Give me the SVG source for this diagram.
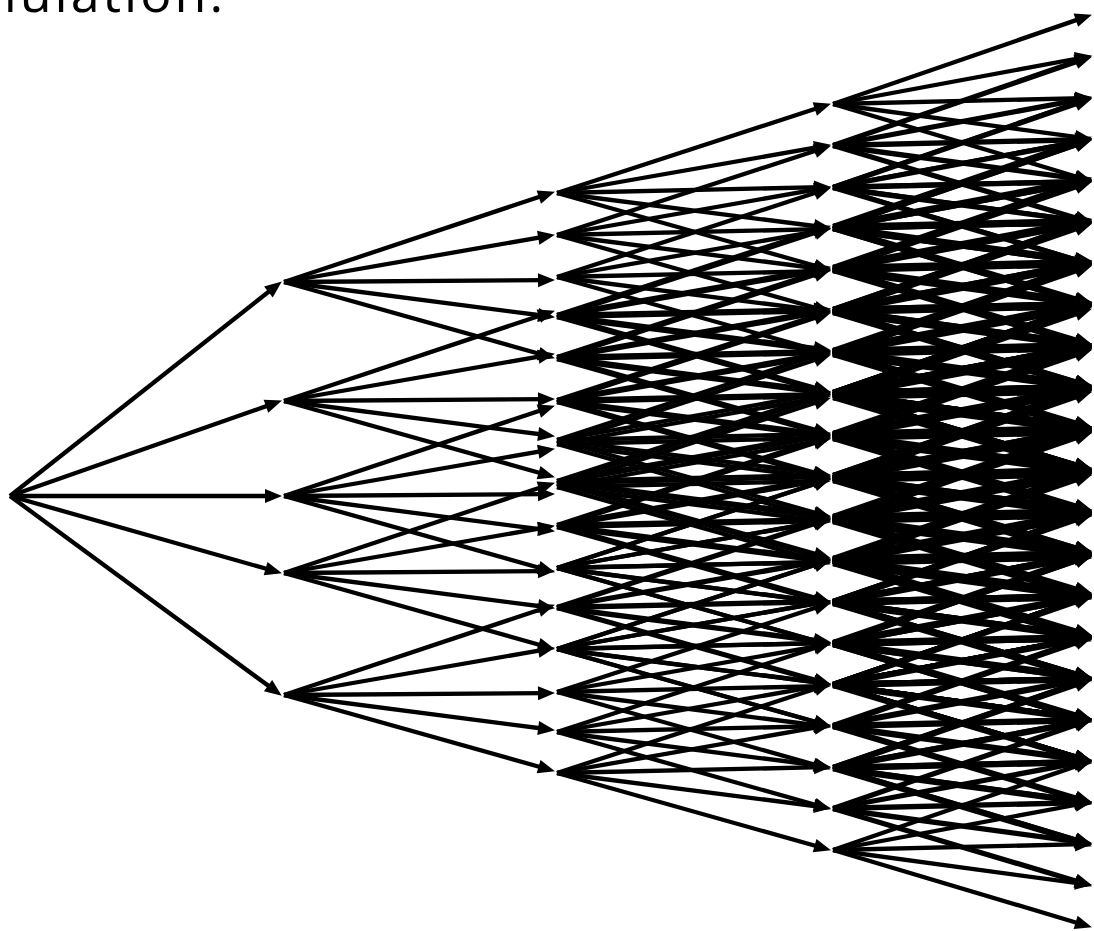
<svg xmlns="http://www.w3.org/2000/svg" width="1094" height="931" viewBox="0 0 1094 931">
<defs>
<style>
.e{fill:none;stroke:#000;stroke-width:4.3;marker-end:url(#ah)}
.t{font-family:"Open Sans","Liberation Sans",sans-serif;font-size:52px;letter-spacing:3px;fill:#000}
</style>
<marker id="ah" markerUnits="userSpaceOnUse" markerWidth="17" markerHeight="14" refX="8" refY="7" orient="auto" overflow="visible"><path d="M0,0L17,7L0,14z" fill="#000" stroke="none"/></marker>
<g id="f2" class="e"><path d="M0 0l262.4-87.5"/><path d="M0 0l262.1-45.6"/><path d="M0 0l262-1.9"/><path d="M0 0l262.1 34"/><path d="M0 0l262.3 73.8"/></g>
<g id="f3" class="e"><path d="M0 0l265.4-86.5"/><path d="M0 0l265.1-46.6"/><path d="M0 0l265-5.8"/><path d="M0 0l265.1 34"/><path d="M0 0l265.3 74.8"/></g>
<g id="f4" class="e"><path d="M0 0l250.4-86.4"/><path d="M0 0l250.1-46.5"/><path d="M0 0l250-5.8"/><path d="M0 0l250.1 33.9"/><path d="M0 0l250.3 74.7"/></g>
</defs>
<text class="t" x="-31.5" y="12">mulation.</text>
<g id="connectors">
<g id="level1" class="e"><path d="M10 496l264.7-209"/><path d="M10 496l263.5-92.4"/><path d="M10 496l263 0"/><path d="M10 496l263.3 74.8"/><path d="M10 496l264.5 194.3"/></g>
<g id="level2">
<use href="#f2" x="284" y="282"/><use href="#f2" x="284" y="401"/><use href="#f2" x="284" y="496"/><use href="#f2" x="284" y="573"/><use href="#f2" x="284" y="695"/>
</g>
<g id="level3">
<use href="#f3" x="557" y="193"/><use href="#f3" x="557" y="235"/><use href="#f3" x="557" y="277"/><use href="#f3" x="557" y="317"/><use href="#f3" x="557" y="359"/>
<use href="#f3" x="557" y="315"/><use href="#f3" x="557" y="357"/><use href="#f3" x="557" y="400"/><use href="#f3" x="557" y="440"/><use href="#f3" x="557" y="481"/>
<use href="#f3" x="557" y="402"/><use href="#f3" x="557" y="444"/><use href="#f3" x="557" y="487"/><use href="#f3" x="557" y="527"/><use href="#f3" x="557" y="568"/>
<use href="#f3" x="557" y="483"/><use href="#f3" x="557" y="525"/><use href="#f3" x="557" y="568"/><use href="#f3" x="557" y="608"/><use href="#f3" x="557" y="649"/>
<use href="#f3" x="557" y="607"/><use href="#f3" x="557" y="649"/><use href="#f3" x="557" y="692"/><use href="#f3" x="557" y="732"/><use href="#f3" x="557" y="773"/>
</g>
<g id="level4">
<use href="#f4" x="833" y="104"/><use href="#f4" x="833" y="145"/><use href="#f4" x="833" y="187"/><use href="#f4" x="833" y="228"/><use href="#f4" x="833" y="270"/>
<use href="#f4" x="833" y="146"/><use href="#f4" x="833" y="187"/><use href="#f4" x="833" y="229"/><use href="#f4" x="833" y="270"/><use href="#f4" x="833" y="312"/>
<use href="#f4" x="833" y="188"/><use href="#f4" x="833" y="229"/><use href="#f4" x="833" y="271"/><use href="#f4" x="833" y="312"/><use href="#f4" x="833" y="354"/>
<use href="#f4" x="833" y="228"/><use href="#f4" x="833" y="269"/><use href="#f4" x="833" y="311"/><use href="#f4" x="833" y="352"/><use href="#f4" x="833" y="394"/>
<use href="#f4" x="833" y="270"/><use href="#f4" x="833" y="311"/><use href="#f4" x="833" y="353"/><use href="#f4" x="833" y="394"/><use href="#f4" x="833" y="436"/>
<use href="#f4" x="833" y="226"/><use href="#f4" x="833" y="267"/><use href="#f4" x="833" y="309"/><use href="#f4" x="833" y="350"/><use href="#f4" x="833" y="392"/>
<use href="#f4" x="833" y="268"/><use href="#f4" x="833" y="309"/><use href="#f4" x="833" y="351"/><use href="#f4" x="833" y="392"/><use href="#f4" x="833" y="434"/>
<use href="#f4" x="833" y="311"/><use href="#f4" x="833" y="352"/><use href="#f4" x="833" y="394"/><use href="#f4" x="833" y="435"/><use href="#f4" x="833" y="477"/>
<use href="#f4" x="833" y="351"/><use href="#f4" x="833" y="392"/><use href="#f4" x="833" y="434"/><use href="#f4" x="833" y="475"/><use href="#f4" x="833" y="517"/>
<use href="#f4" x="833" y="392"/><use href="#f4" x="833" y="433"/><use href="#f4" x="833" y="475"/><use href="#f4" x="833" y="516"/><use href="#f4" x="833" y="558"/>
<use href="#f4" x="833" y="313"/><use href="#f4" x="833" y="354"/><use href="#f4" x="833" y="396"/><use href="#f4" x="833" y="437"/><use href="#f4" x="833" y="479"/>
<use href="#f4" x="833" y="355"/><use href="#f4" x="833" y="396"/><use href="#f4" x="833" y="438"/><use href="#f4" x="833" y="479"/><use href="#f4" x="833" y="521"/>
<use href="#f4" x="833" y="398"/><use href="#f4" x="833" y="439"/><use href="#f4" x="833" y="481"/><use href="#f4" x="833" y="522"/><use href="#f4" x="833" y="564"/>
<use href="#f4" x="833" y="438"/><use href="#f4" x="833" y="479"/><use href="#f4" x="833" y="521"/><use href="#f4" x="833" y="562"/><use href="#f4" x="833" y="604"/>
<use href="#f4" x="833" y="479"/><use href="#f4" x="833" y="520"/><use href="#f4" x="833" y="562"/><use href="#f4" x="833" y="603"/><use href="#f4" x="833" y="645"/>
<use href="#f4" x="833" y="394"/><use href="#f4" x="833" y="435"/><use href="#f4" x="833" y="477"/><use href="#f4" x="833" y="518"/><use href="#f4" x="833" y="560"/>
<use href="#f4" x="833" y="436"/><use href="#f4" x="833" y="477"/><use href="#f4" x="833" y="519"/><use href="#f4" x="833" y="560"/><use href="#f4" x="833" y="602"/>
<use href="#f4" x="833" y="479"/><use href="#f4" x="833" y="520"/><use href="#f4" x="833" y="562"/><use href="#f4" x="833" y="603"/><use href="#f4" x="833" y="645"/>
<use href="#f4" x="833" y="519"/><use href="#f4" x="833" y="560"/><use href="#f4" x="833" y="602"/><use href="#f4" x="833" y="643"/><use href="#f4" x="833" y="685"/>
<use href="#f4" x="833" y="560"/><use href="#f4" x="833" y="601"/><use href="#f4" x="833" y="643"/><use href="#f4" x="833" y="684"/><use href="#f4" x="833" y="726"/>
<use href="#f4" x="833" y="518"/><use href="#f4" x="833" y="559"/><use href="#f4" x="833" y="601"/><use href="#f4" x="833" y="642"/><use href="#f4" x="833" y="684"/>
<use href="#f4" x="833" y="560"/><use href="#f4" x="833" y="601"/><use href="#f4" x="833" y="643"/><use href="#f4" x="833" y="684"/><use href="#f4" x="833" y="726"/>
<use href="#f4" x="833" y="603"/><use href="#f4" x="833" y="644"/><use href="#f4" x="833" y="686"/><use href="#f4" x="833" y="727"/><use href="#f4" x="833" y="769"/>
<use href="#f4" x="833" y="643"/><use href="#f4" x="833" y="684"/><use href="#f4" x="833" y="726"/><use href="#f4" x="833" y="767"/><use href="#f4" x="833" y="809"/>
<use href="#f4" x="833" y="684"/><use href="#f4" x="833" y="725"/><use href="#f4" x="833" y="767"/><use href="#f4" x="833" y="808"/><use href="#f4" x="833" y="850"/>
</g>
</g>
</svg>
